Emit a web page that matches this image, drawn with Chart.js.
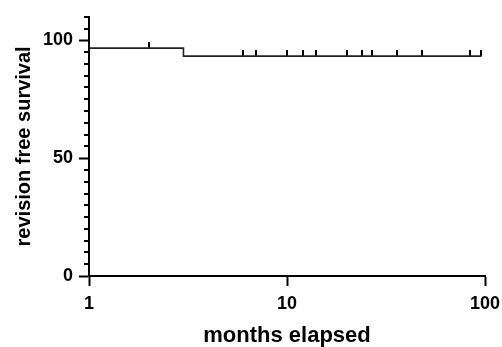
<!DOCTYPE html>
<html>
<head>
<meta charset="utf-8">
<script src="https://cdn.jsdelivr.net/npm/chart.js@4/dist/chart.umd.min.js"></script>
<style>
html, body { margin: 0; padding: 0; background: #fff; }
#wrap { width: 502px; height: 347px; }
</style>
</head>
<body>
<div id="wrap"><canvas id="chart"></canvas></div>
<script>
// survival curve - step points (months, % revision free)
const stepMonths = [1, 3, 96];
const stepSurvival = [96.7, 93.3, 93.3];

// censored cases
const censorMonths = [2, 6, 7, 10, 12, 14, 20, 24, 27, 36, 48, 84, 96];
const censorSurvival = [96.7, 93.3, 93.3, 93.3, 93.3, 93.3, 93.3, 93.3, 93.3, 93.3, 93.3, 93.3, 93.3];

const xTicks = [1, 10, 100];
const yLabels = [0, 50, 100];

// small upward tick used as the censor marker
const censorMark = document.createElement('canvas');
censorMark.width = 2;
censorMark.height = 12;
const mctx = censorMark.getContext('2d');
mctx.fillStyle = '#000';
mctx.fillRect(0, 0, 2, 6);

// short minor ticks on the y axis
const minorTicks = {
    id: 'minorTicks',
    afterDraw(chart) {
        const y = chart.scales.y;
        const ctx = chart.ctx;
        ctx.save();
        ctx.strokeStyle = '#000';
        ctx.lineWidth = 2;
        y.ticks.forEach(t => {
            if (yLabels.includes(t.value)) return;
            const py = Math.round(y.getPixelForValue(t.value));
            ctx.beginPath();
            ctx.moveTo(y.right - 5, py);
            ctx.lineTo(y.right, py);
            ctx.stroke();
        });
        ctx.restore();
    }
};

const chartElement = document.getElementById('chart');

new Chart(chartElement, {
    type: 'line',
    data: {
        datasets: [{
            data: stepMonths.map((m, i) => ({ x: m, y: stepSurvival[i] })),
            stepped: true,
            borderColor: '#222',
            borderWidth: 1.6,
            pointRadius: 0,
            fill: false
        }, {
            data: censorMonths.map((m, i) => ({ x: m, y: censorSurvival[i] })),
            showLine: false,
            pointStyle: censorMark,
            pointRadius: 3
        }]
    },
    options: {
        responsive: true,
        maintainAspectRatio: false,
        animation: false,
        layout: {
            padding: { top: 12, right: 17, left: 0, bottom: 0 }
        },
        plugins: {
            legend: { display: false },
            tooltip: { enabled: false }
        },
        scales: {
            x: {
                type: 'logarithmic',
                min: 1,
                max: 100,
                afterBuildTicks: scale => {
                    scale.ticks = xTicks.map(v => ({ value: v }));
                },
                afterFit: scale => {
                    scale.height = 71;
                    scale.paddingRight = 0;
                    scale.paddingLeft = 0;
                },
                ticks: {
                    color: '#000',
                    padding: 7,
                    autoSkip: false,
                    maxRotation: 0,
                    font: { family: 'Arial, "Liberation Sans"', size: 18, weight: 'bold' },
                    callback: v => String(v)
                },
                grid: {
                    drawOnChartArea: false,
                    tickLength: 10,
                    tickColor: '#000',
                    tickWidth: 2
                },
                border: { color: '#000', width: 2 },
                title: {
                    display: true,
                    text: 'months elapsed',
                    color: '#000',
                    padding: { top: 0, bottom: 0 },
                    font: { family: 'Arial, "Liberation Sans"', size: 22, weight: 'bold', lineHeight: 1 }
                }
            },
            y: {
                min: 0,
                max: 110,
                afterFit: scale => { scale.width = 89; },
                ticks: {
                    stepSize: 5,
                    autoSkip: false,
                    color: '#000',
                    padding: 6,
                    font: { family: 'Arial, "Liberation Sans"', size: 18, weight: 'bold' },
                    callback: v => yLabels.includes(v) ? String(v) : ''
                },
                grid: {
                    drawOnChartArea: false,
                    tickLength: 10,
                    tickWidth: 2,
                    tickColor: c => yLabels.includes(c.tick.value) ? '#000' : 'rgba(0,0,0,0)'
                },
                border: { color: '#000', width: 2 },
                title: {
                    display: true,
                    text: 'revision free survival',
                    color: '#000',
                    padding: { top: 12, bottom: 0 },
                    font: { family: 'Arial, "Liberation Sans"', size: 20, weight: 'bold' }
                }
            }
        }
    },
    plugins: [minorTicks]
});
</script>
</body>
</html>
